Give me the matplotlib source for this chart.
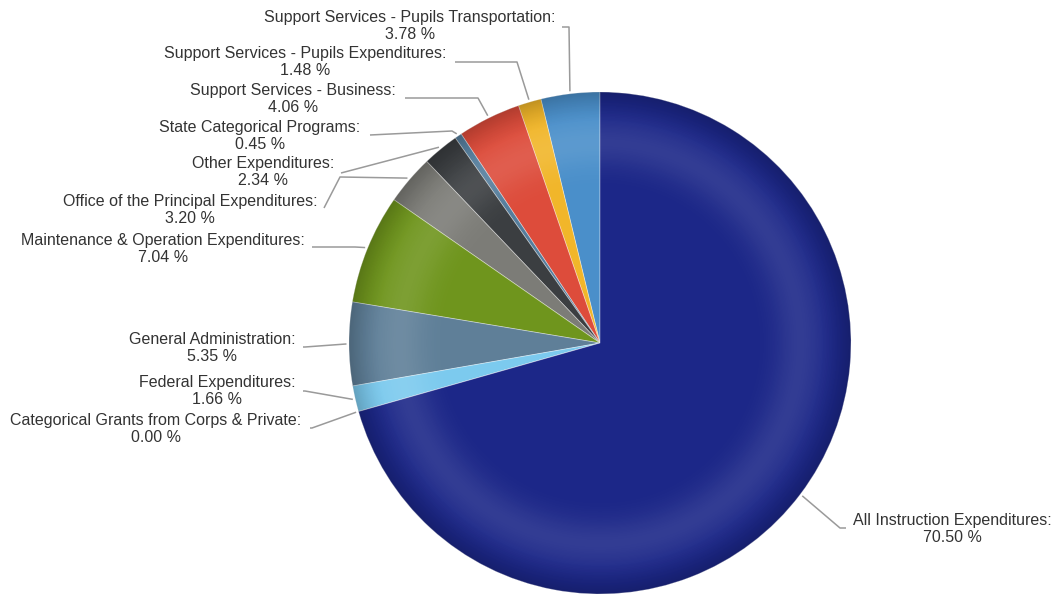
import numpy as np
import matplotlib
matplotlib.use("Agg")
import matplotlib.pyplot as plt
from matplotlib.patches import Circle

# ---- data (order: counter-clockwise from 12 o'clock) ----
categories = [
    "Support Services - Pupils Transportation",
    "Support Services - Pupils Expenditures",
    "Support Services - Business",
    "State Categorical Programs",
    "Other Expenditures",
    "Office of the Principal Expenditures",
    "Maintenance & Operation Expenditures",
    "General Administration",
    "Federal Expenditures",
    "Categorical Grants from Corps & Private",
    "All Instruction Expenditures",
]
values = [3.78, 1.48, 4.06, 0.45, 2.34, 3.20, 7.04, 5.35, 1.66, 0.00, 70.50]
colors = ["#4a8fca", "#f1b62a", "#dd4c3b", "#557d9c", "#3b3e41", "#7c7c77",
          "#6f951d", "#5f7f98", "#7ccaee", "#2a2f8a", "#1c2788"]

# ---- layout (pixel coords, y from top) ----
W, H = 1055, 594
CX, CY, R = 600, 343, 251
# label: (text center x, first-line center y, connector start, elbow)
layout = [
    (410, 17, (562, 27), (569, 27)),
    (305, 53, (455, 62), (517, 62)),
    (293, 90, (405, 98), (478, 98)),
    (260, 127, (370, 135), (452, 131)),
    (263, 163, (341, 173), (341, 173)),
    (190, 201, (324, 208), (340, 177)),
    (163, 240, (312, 247), (355, 247)),
    (212, 339, (303, 347), (305, 347)),
    (217, 382, (303, 391), (305, 391)),
    (156, 420, (310, 428), (312, 428)),
    (952, 520, (846, 528), (840, 528)),
]

fig = plt.figure(figsize=(W / 100, H / 100), dpi=100)
ax = fig.add_axes([0, 0, 1, 1])

center = (CX, H - CY)
wedges, _ = ax.pie(values, colors=colors, startangle=90, counterclock=True,
                   center=center, radius=R, frame=True,
                   wedgeprops=dict(edgecolor=(1, 1, 1, 0.4), linewidth=0.6))

# shading overlay (radial highlight and dark rim)
n = 600
xs = np.linspace(CX - R, CX + R, n)
ys = np.linspace(H - CY - R, H - CY + R, n)
X, Y = np.meshgrid(xs, ys)
rr = np.hypot(X - CX, Y - (H - CY)) / R
light = 0.10 * np.exp(-((rr - 0.80) / 0.10) ** 2)
dark = np.clip((rr - 0.88) / 0.12, 0, 1) ** 1.5 * 0.20
img_l = np.zeros((n, n, 4)); img_l[..., :3] = 1; img_l[..., 3] = light
img_d = np.zeros((n, n, 4)); img_d[..., 3] = dark
for img in (img_l, img_d):
    im = ax.imshow(img, extent=(CX - R, CX + R, H - CY - R, H - CY + R),
                   origin="lower", zorder=3, interpolation="bilinear")
    im.set_clip_path(Circle(center, R, transform=ax.transData))

ax.set_xlim(0, W)
ax.set_ylim(0, H)
ax.set_aspect("equal")
ax.axis("off")

# labels and connectors
cum = np.cumsum([0] + values[:-1])
total = sum(values)
for i, (name, v) in enumerate(zip(categories, values)):
    mid = 90 + (cum[i] + v / 2) / total * 360
    ex = CX + R * 1.01 * np.cos(np.radians(mid))
    ey = (H - CY) + R * 1.01 * np.sin(np.radians(mid))
    tx, ty, st, el = layout[i]
    ax.plot([st[0], el[0], ex], [H - st[1], H - el[1], ey],
            color="#9a9a9a", lw=1.1, zorder=4, solid_capstyle="butt")
    ax.text(tx, H - ty + 7, f"{name}:\n{v:.2f} %", ha="center", va="top",
            fontsize=11.5, family="Liberation Sans", color="#333333",
            linespacing=1.17, zorder=5)

fig.savefig("out.png", dpi=100)
